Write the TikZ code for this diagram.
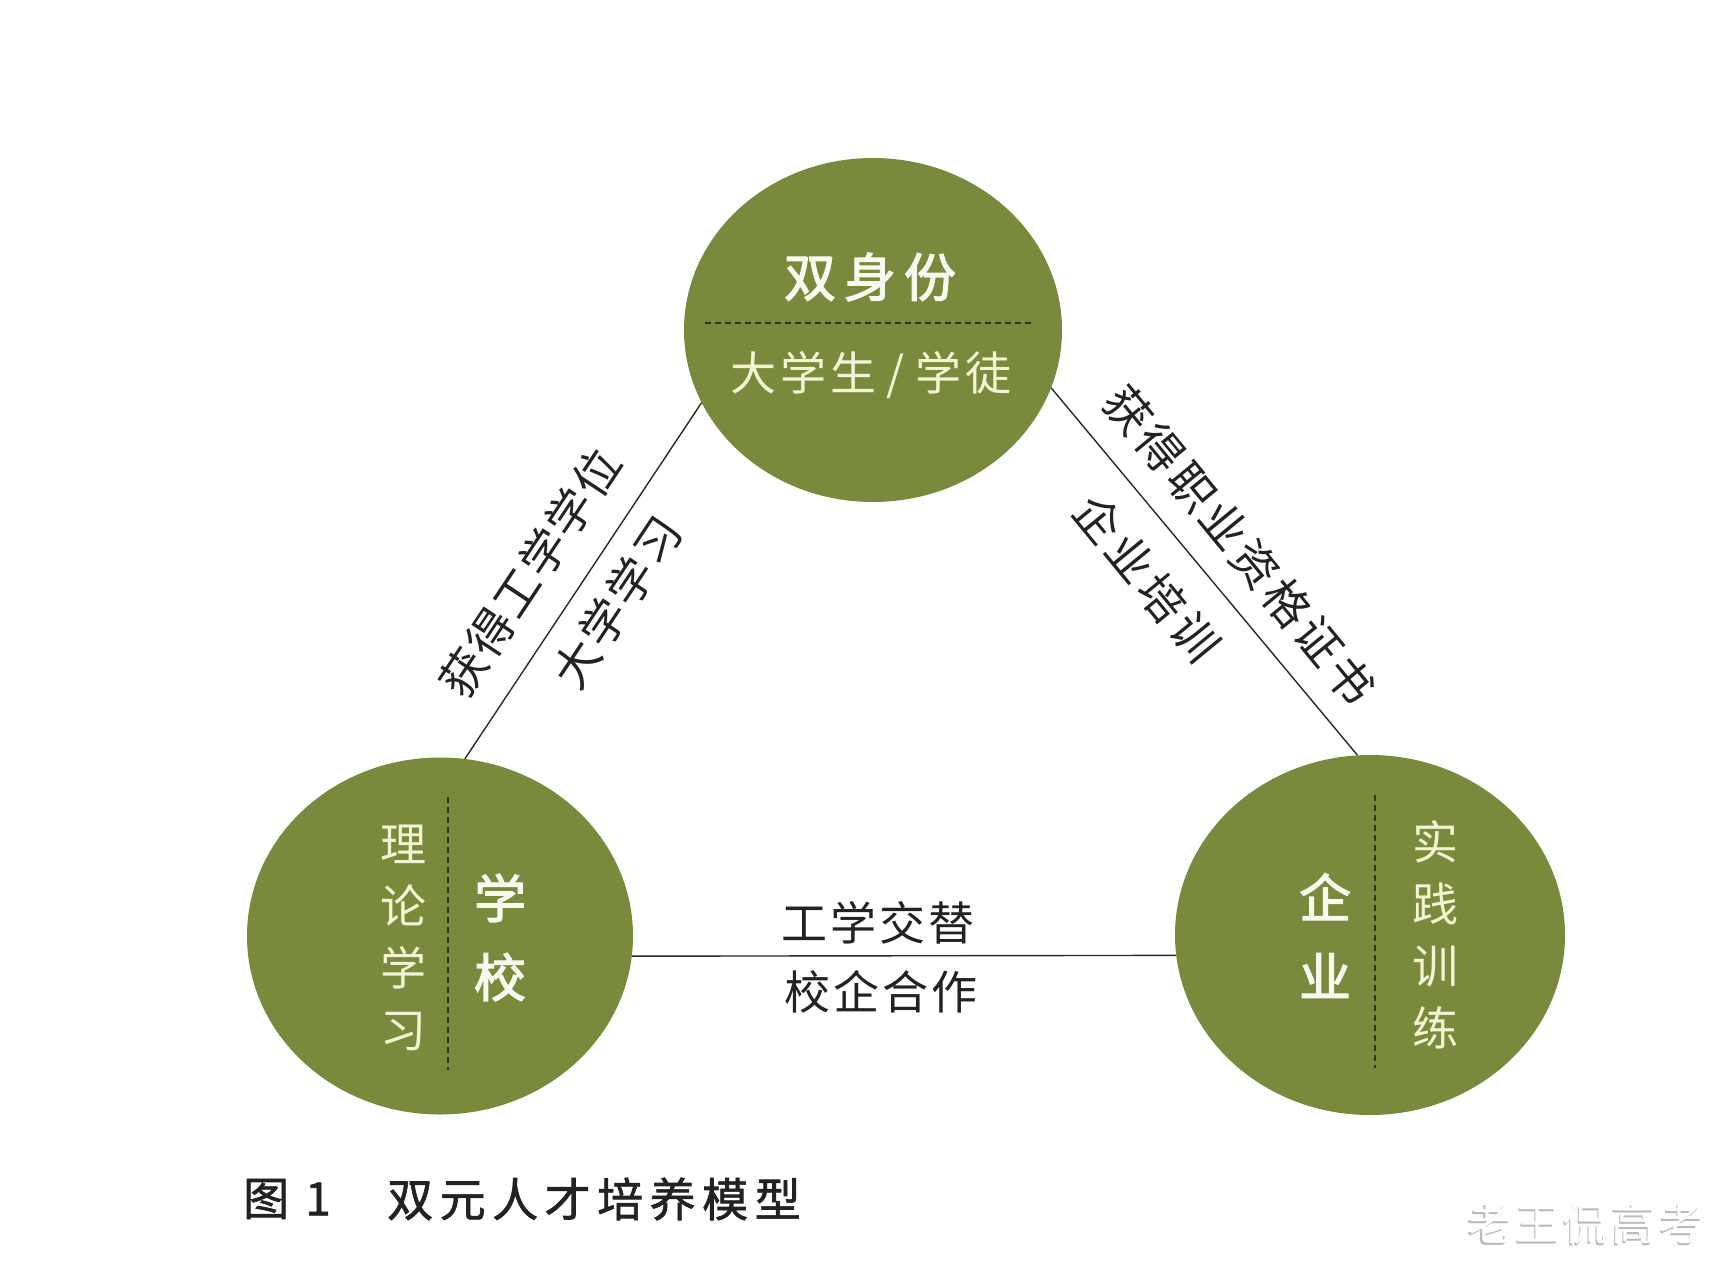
\documentclass[tikz,border=0pt]{standalone}
\usepackage{fontspec}
\newfontfamily\cjk{Noto Sans CJK SC}
\newfontfamily\cjkmed[FakeBold=1.4]{Noto Sans CJK SC}
\newfontfamily\cjkbold[FakeBold=2.4]{Noto Sans CJK SC}
\usetikzlibrary{shapes.geometric}
\definecolor{circfill}{HTML}{7A8A3C}
\definecolor{cream}{HTML}{F3F2D2}
\definecolor{titlewhite}{HTML}{F8F8EE}
\definecolor{linegray}{HTML}{2A2A2A}
\definecolor{labelblack}{HTML}{222222}
\definecolor{darkdash}{HTML}{2E3818}
\begin{document}
\begin{tikzpicture}[x=1pt,y=-1pt,
  blob/.style={ellipse, fill=circfill, inner sep=0pt},
  conn/.style={draw=linegray, line width=1.4pt},
  lbl/.style={font=\cjk\fontsize{46}{50}\selectfont, text=labelblack, inner sep=0pt},
  intext/.style={font=\cjk\fontsize{46}{62}\selectfont, text=cream, align=center, inner sep=0pt},
  inbold/.style={font=\cjkbold\fontsize{52}{79}\selectfont, text=titlewhite, align=center, inner sep=0pt},
  captxt/.style={font=\cjkmed\fontsize{46}{50}\selectfont, text=labelblack, inner sep=0pt},
  divider/.style={draw=darkdash, line width=2pt, dash pattern=on 6pt off 4pt}]
\useasboundingbox[fill=white] (0,0) rectangle (1733,1280);

% circles
\node[blob, minimum width=378pt, minimum height=344pt] (top) at (873,330) {};
\node[blob, minimum width=386pt, minimum height=357pt] (left) at (440,936) {};
\node[blob, minimum width=390pt, minimum height=360pt] (right) at (1370,935) {};

% connectors
\draw[conn] (top.203) -- (left.82);
\draw[conn] (top.-18) -- (right.94);
\draw[conn] (left.-6.5) -- (right.186.8);

% top circle contents
\node[inbold] (toptitle) at (870,277) {双\kern8pt身\kern8pt份};
\draw[divider] (705,323) -- (1033,323);
\node[intext] (topsub) at (871,375) {大\kern4pt学\kern4pt生 / 学\kern4pt徒};

% left circle contents
\draw[divider] (448,797) -- (448,1070);
\node[intext] (leftsub) at (403,938) {理\\论\\学\\习};
\node[inbold] (lefttitle) at (500,937.5) {学\\校};

% right circle contents
\draw[divider] (1375,795) -- (1375,1068);
\node[inbold] (righttitle) at (1325,935.5) {企\\业};
\node[intext] (rightsub) at (1435,934.5) {实\\践\\训\\练};

% slanted labels
\node[lbl, rotate=56.4] (l1) at (530,573) {获\kern2pt得\kern2pt工\kern2pt学\kern2pt学\kern2pt位};
\node[lbl, rotate=56.4] (l2) at (617,602) {大\kern3pt学\kern3pt学\kern3pt习};
\node[lbl, rotate=-50.6] (r1) at (1240,545) {获\kern4pt得\kern4pt职\kern4pt业\kern4pt资\kern4pt格\kern4pt证\kern4pt书};
\node[lbl, rotate=-50.6] (r2) at (1147,578) {企\kern5pt业\kern5pt培\kern5pt训};

% bottom labels
\node[lbl] (b1) at (878,923) {工\kern3pt学\kern3pt交\kern3pt替};
\node[lbl] (b2) at (881,992) {校\kern3pt企\kern3pt合\kern3pt作};

% caption
\node[captxt, anchor=west] (capfig) at (243,1199) {图};
\node[captxt] (capnum) at (318,1199) {1};
\node[captxt, anchor=west] (captitle) at (387,1199) {双\kern6.5pt元\kern6.5pt人\kern6.5pt才\kern6.5pt培\kern6.5pt养\kern6.5pt模\kern6.5pt型};

% watermark
\node[font=\cjk\fontsize{44}{48}\selectfont, text=gray!55, inner sep=0pt] (wmshadow) at (1584.5,1225.5) {老\kern4pt王\kern4pt侃\kern4pt高\kern4pt考};
\node[font=\cjk\fontsize{44}{48}\selectfont, text=white, inner sep=0pt] (wm) at (1586,1224) {老\kern4pt王\kern4pt侃\kern4pt高\kern4pt考};
\end{tikzpicture}
\end{document}
